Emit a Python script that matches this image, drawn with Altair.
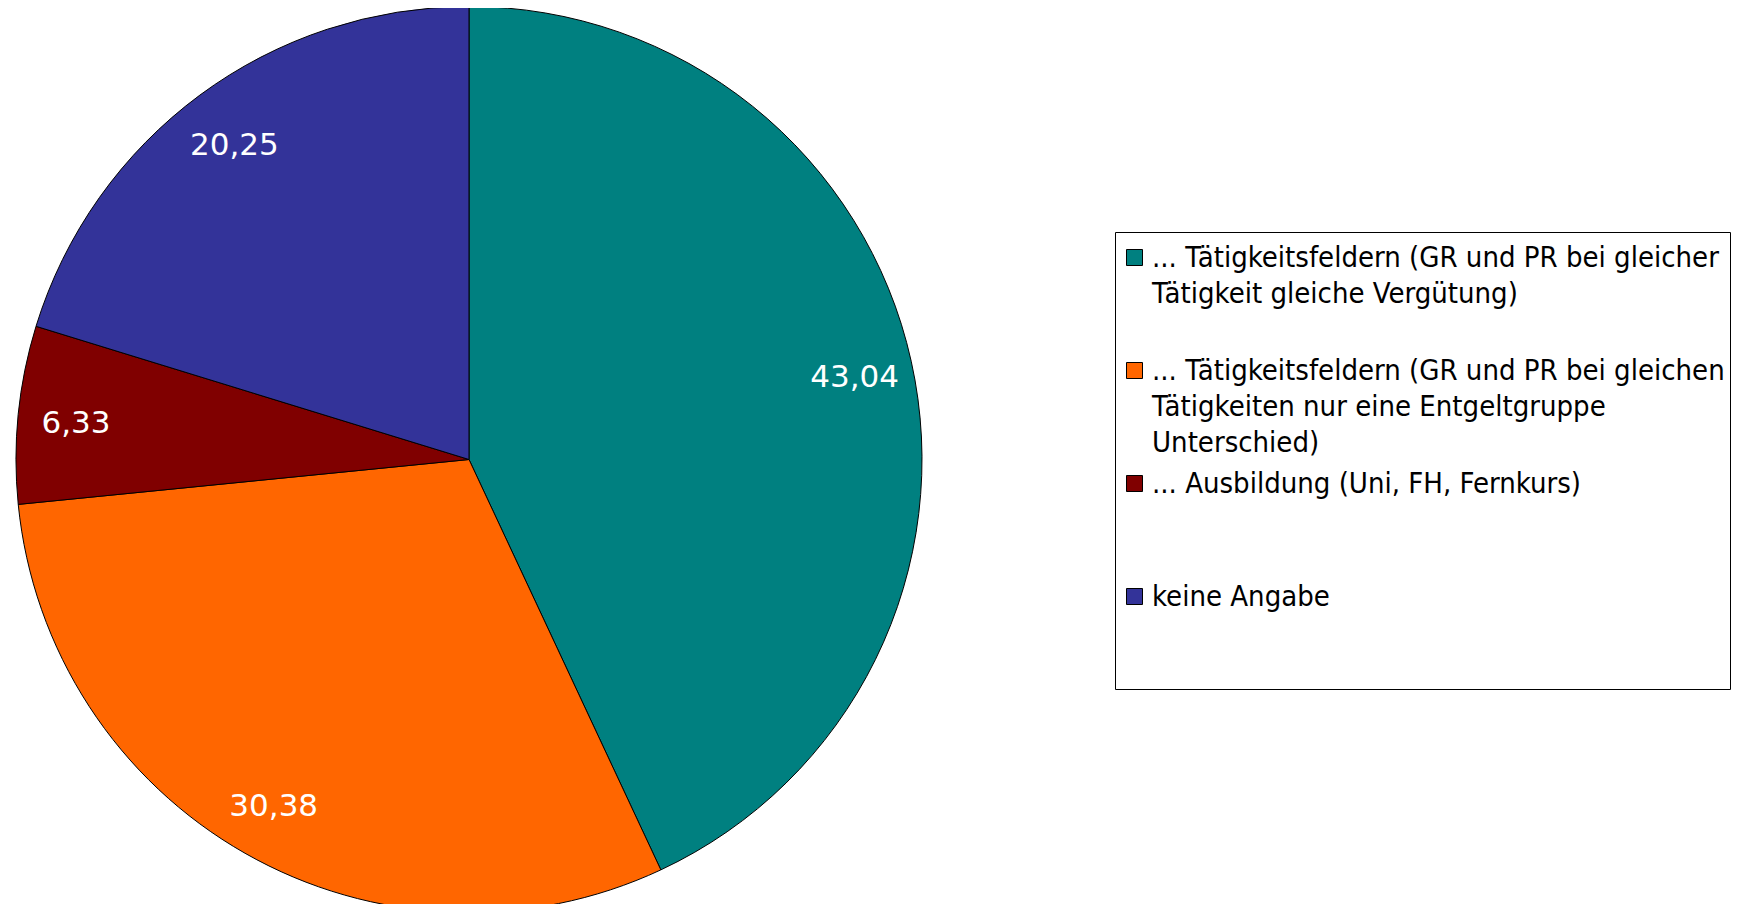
import altair as alt
import pandas as pd

categories = [
    "... Tätigkeitsfeldern (GR und PR bei gleicher|Tätigkeit gleiche Vergütung)",
    "... Tätigkeitsfeldern (GR und PR bei gleichen|Tätigkeiten nur eine Entgeltgruppe|Unterschied)",
    "... Ausbildung (Uni, FH, Fernkurs)",
    "keine Angabe",
]
values = [43.04, 30.38, 6.33, 20.25]
colors = ["#008080", "#FF6600", "#800000", "#333399"]
order_idx = [0, 1, 2, 3]

df = pd.DataFrame({"cat": categories, "value": values, "idx": order_idx})

base = alt.Chart(df).transform_calculate(
    lab="replace(format(datum.value, '.2f'), '.', ',')"
)

pie = base.mark_arc(radius=453, stroke="black", strokeWidth=1).encode(
    theta=alt.Theta("value:Q", stack=True),
    order=alt.Order("idx:Q"),
    color=alt.Color(
        "cat:N",
        scale=alt.Scale(domain=categories, range=colors),
        legend=alt.Legend(
            title=" ",
            titleFontSize=1,
            titlePadding=5,
            orient="none",
            legendX=1107,
            legendY=224,
            strokeColor="black",
            fillColor="white",
            padding=5,
            cornerRadius=0,
            symbolType="square",
            symbolSize=256,
            symbolStrokeColor="black",
            symbolStrokeWidth=1,
            symbolOpacity=1,
            labelFont="DejaVu Sans Condensed, DejaVu Sans",
            labelFontSize=29,
            labelColor="black",
            labelLimit=800,
            labelBaseline="alphabetic",
            labelOffset=3,
            rowPadding=11,
            labelExpr="slice(split(datum.label + '||', '|'), 0, 3)",
        ),
    ),
)

labels = base.mark_text(
    radius=395, fontSize=31, font="DejaVu Sans", fill="white",
    align="center", baseline="middle", dy=4
).encode(
    theta=alt.Theta("value:Q", stack=True),
    order=alt.Order("idx:Q"),
    text=alt.Text("lab:N"),
)

chart = (
    alt.layer(pie, labels)
    .properties(
        width=922,
        height=903,
        autosize=alt.AutoSizeParams(type="none"),
        padding={"left": 0, "top": 0, "right": 804, "bottom": -7},
    )
    .configure_view(stroke=None)
    .configure(style={"guide-label": {"lineHeight": 36, "dy": 9}})
)

chart.save("out.html", embed_options={"renderer": "svg", "actions": False})
